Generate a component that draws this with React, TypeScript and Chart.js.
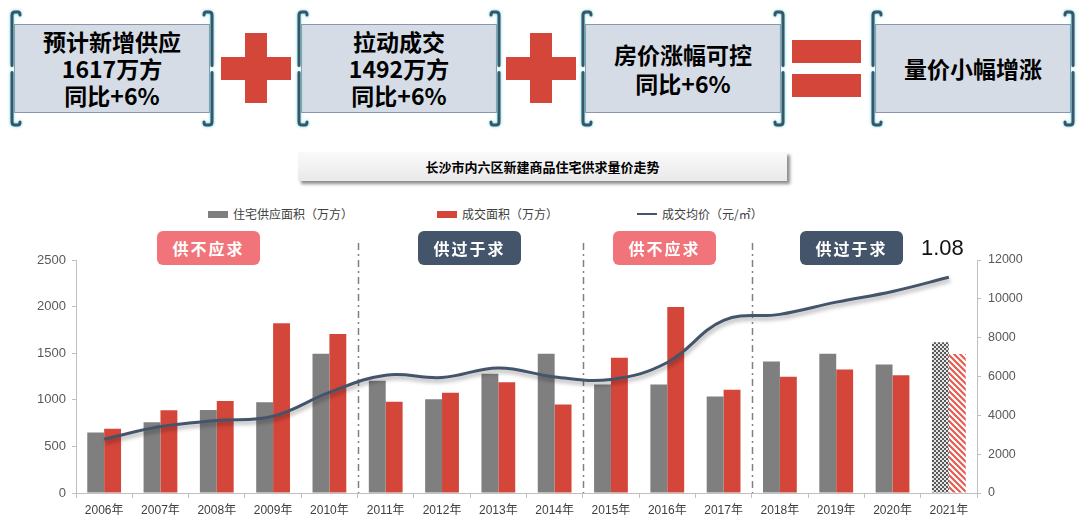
import React, { useEffect, useRef } from 'react';
import { Chart, registerables } from 'chart.js';

Chart.register(...registerables);

// ---- data ----
const years = ['2006年', '2007年', '2008年', '2009年', '2010年', '2011年', '2012年', '2013年', '2014年', '2015年', '2016年', '2017年', '2018年', '2019年', '2020年', '2021年'];
const supplyArea = [650, 760, 890, 975, 1493, 1204, 1007, 1279, 1493, 1164, 1164, 1036, 1411, 1493, 1379, 1617];
const dealArea = [690, 889, 986, 1821, 1707, 979, 1075, 1189, 950, 1450, 1996, 1107, 1246, 1325, 1264, 1492];
const avgPrice = [2770, 3420, 3730, 3950, 5180, 6070, 5950, 6440, 5980, 5850, 6720, 8890, 9200, 9830, 10380, 11110];
const leftAxis = { min: 0, max: 2500, step: 500 };
const rightAxis = { min: 0, max: 12000, step: 2000 };
const dividerAfter = [4, 8, 11];
const seriesNames = ['住宅供应面积（万方）', '成交面积（万方）', '成交均价（元/㎡）'];
const phaseLabels = ['供不应求', '供过于求', '供不应求', '供过于求'];
const topBoxes = [
  ['预计新增供应', '1617万方', '同比+6%'],
  ['拉动成交', '1492万方', '同比+6%'],
  ['房价涨幅可控', '同比+6%'],
  ['量价小幅增涨'],
];
const chartTitle = '长沙市内六区新建商品住宅供求量价走势';
const ratioLabel = '1.08';

const GRAY = '#7f7f7f';
const RED = '#D5463A';
const NAVY = '#44546A';
const PINK = '#F07479';

function makeChecker(): CanvasPattern | string {
  const c = document.createElement('canvas');
  c.width = 4; c.height = 4;
  const x = c.getContext('2d');
  if (!x) return GRAY;
  x.fillStyle = '#e6e6e6'; x.fillRect(0, 0, 4, 4);
  x.fillStyle = '#595959';
  x.fillRect(0, 0, 2, 2); x.fillRect(2, 2, 2, 2);
  const p = x.createPattern(c, 'repeat');
  return p || GRAY;
}
function makeStripes(): CanvasPattern | string {
  const c = document.createElement('canvas');
  c.width = 6; c.height = 6;
  const x = c.getContext('2d');
  if (!x) return RED;
  x.fillStyle = '#ffffff'; x.fillRect(0, 0, 6, 6);
  x.strokeStyle = '#E8564B'; x.lineWidth = 2;
  x.beginPath();
  x.moveTo(-1, -1); x.lineTo(7, 7);
  x.moveTo(-4, 2); x.lineTo(2, 8);
  x.moveTo(2, -4); x.lineTo(8, 2);
  x.stroke();
  const p = x.createPattern(c, 'repeat');
  return p || RED;
}

const dividerPlugin = {
  id: 'dividers',
  beforeDatasetsDraw(chart: any) {
    const xs = chart.scales.x;
    const ctx = chart.ctx;
    ctx.save();
    ctx.strokeStyle = '#808080';
    ctx.lineWidth = 1.5;
    ctx.setLineDash([7, 4, 2, 4]);
    for (const i of dividerAfter) {
      const px = Math.round((xs.getPixelForValue(i) + xs.getPixelForValue(i + 1)) / 2) + 0.5;
      ctx.beginPath();
      ctx.moveTo(px, chart.chartArea.top - 17);
      ctx.lineTo(px, chart.chartArea.bottom);
      ctx.stroke();
    }
    ctx.restore();
  },
};

const shadowPlugin = {
  id: 'lineShadow',
  beforeDatasetDraw(chart: any, args: any) {
    if (args.meta.type === 'line') {
      const ctx = chart.ctx;
      ctx.save();
      ctx.shadowColor = 'rgba(0,0,0,0.35)';
      ctx.shadowBlur = 4;
      ctx.shadowOffsetX = 1;
      ctx.shadowOffsetY = 3;
    }
  },
  afterDatasetDraw(chart: any, args: any) {
    if (args.meta.type === 'line') chart.ctx.restore();
  },
};

function BracketBox({ left, lines }: { left: number; lines: string[] }) {
  const top = 24, w = 196, h = 89;
  const bracket = (side: 'l' | 'r') => {
    const x = side === 'l' ? -2 : w + 2;
    const d = side === 'l' ? 1 : -1;
    const yt = -12, yb = h + 12;
    return (
      <g>
        <path d={`M ${x} ${h / 2 - 3} L ${x} ${yt + 3} Q ${x} ${yt} ${x + 3 * d} ${yt} L ${x + 6 * d} ${yt} Q ${x + 8 * d} ${yt} ${x + 8 * d} ${yt + 3}`} />
        <path d={`M ${x} ${h / 2 + 4} L ${x} ${yb - 3} Q ${x} ${yb} ${x + 3 * d} ${yb} L ${x + 6 * d} ${yb} Q ${x + 8 * d} ${yb} ${x + 8 * d} ${yb - 3}`} />
      </g>
    );
  };
  return (
    <div style={{ position: 'absolute', left, top, width: w, height: h }}>
      <div style={{ position: 'absolute', inset: 0, background: '#D6DCE5', border: '1px solid #8796AC', boxSizing: 'border-box' }} />
      <svg width={w + 30} height={h + 34} viewBox={`-15 -17 ${w + 30} ${h + 34}`}
        style={{ position: 'absolute', left: -15, top: -17, overflow: 'visible', filter: 'drop-shadow(0 0 1.5px #55d6dc)' }}
        fill="none" stroke="#3A5568" strokeWidth={3} strokeLinecap="round">
        {bracket('l')}
        {bracket('r')}
      </svg>
      <div style={{ position: 'absolute', inset: 0, display: 'flex', flexDirection: 'column', justifyContent: 'center', alignItems: 'center', fontFamily: '"Noto Sans CJK SC", "Liberation Sans", sans-serif', fontWeight: 700, fontSize: 23, lineHeight: lines.length === 3 ? '27px' : '29px', color: '#000' }}>
        {lines.map((t, i) => <div key={i}>{t}</div>)}
      </div>
    </div>
  );
}

function Plus({ left }: { left: number }) {
  return (
    <div style={{ position: 'absolute', left, top: 33, width: 70, height: 70 }}>
      <div style={{ position: 'absolute', left: 24, top: 0, width: 22, height: 70, background: RED }} />
      <div style={{ position: 'absolute', left: 0, top: 24, width: 70, height: 23, background: RED }} />
    </div>
  );
}

export default function App() {
  const ref = useRef<HTMLCanvasElement | null>(null);

  useEffect(() => {
    if (!ref.current) return;
    const checker = makeChecker();
    const stripes = makeStripes();
    const last = years.length - 1;
    const plain = (v: any) => String(v);
    const chart = new Chart(ref.current, {
      type: 'bar',
      data: {
        labels: years,
        datasets: [
          {
            type: 'bar',
            label: seriesNames[0],
            data: supplyArea,
            backgroundColor: supplyArea.map((_, i) => (i === last ? checker : GRAY)) as any,
            yAxisID: 'y',
            categoryPercentage: 0.6,
            barPercentage: 1.0,
            order: 2,
          },
          {
            type: 'bar',
            label: seriesNames[1],
            data: dealArea,
            backgroundColor: dealArea.map((_, i) => (i === last ? stripes : RED)) as any,
            yAxisID: 'y',
            categoryPercentage: 0.6,
            barPercentage: 1.0,
            order: 2,
          },
          {
            type: 'line',
            label: seriesNames[2],
            data: avgPrice,
            borderColor: NAVY,
            backgroundColor: NAVY,
            borderWidth: 3,
            pointRadius: 0,
            tension: 0.4,
            yAxisID: 'y1',
            order: 1,
          },
        ],
      },
      options: {
        responsive: false,
        animation: false,
        devicePixelRatio: 1,
        layout: { padding: { top: 20, left: 0, right: 0, bottom: 0 } },
        plugins: {
          legend: { display: false },
          tooltip: { enabled: false },
          title: { display: false },
        },
        scales: {
          x: {
            type: 'category',
            offset: true,
            grid: { offset: true, drawOnChartArea: false, drawTicks: true, tickLength: 5, color: '#bfbfbf' },
            border: { display: true, color: '#bfbfbf', width: 1 },
            ticks: { color: '#404040', font: { size: 12, family: '"Liberation Sans", "Noto Sans CJK SC", sans-serif' }, padding: 5, maxRotation: 0, autoSkip: false },
            afterFit: (s: any) => { s.height = 36; },
          },
          y: {
            position: 'left',
            min: leftAxis.min,
            max: leftAxis.max,
            grid: { drawOnChartArea: false, drawTicks: true, tickLength: 4, color: '#bfbfbf' },
            border: { display: true, color: '#bfbfbf', width: 1 },
            ticks: { stepSize: leftAxis.step, color: '#595959', font: { size: 13, family: '"Liberation Sans", sans-serif' }, padding: 6, callback: plain },
            afterFit: (s: any) => { s.width = 76; },
          },
          y1: {
            position: 'right',
            min: rightAxis.min,
            max: rightAxis.max,
            grid: { drawOnChartArea: false, drawTicks: true, tickLength: 4, color: '#bfbfbf' },
            border: { display: true, color: '#bfbfbf', width: 1 },
            ticks: { stepSize: rightAxis.step, color: '#595959', font: { size: 12.5, family: '"Liberation Sans", sans-serif' }, padding: 7, callback: plain },
            afterFit: (s: any) => { s.width = 103; },
          },
        },
      } as any,
      plugins: [dividerPlugin, shadowPlugin],
    });
    return () => chart.destroy();
  }, []);

  const cjk = '"Noto Sans CJK SC", "Liberation Sans", sans-serif';
  const legendItems = [
    { swatchLeft: 208, textLeft: 233, color: GRAY, h: 7 },
    { swatchLeft: 437, textLeft: 462, color: RED, h: 7 },
    { swatchLeft: 637, textLeft: 662, color: NAVY, h: 2 },
  ];
  const phaseBoxes = [
    { left: 157, bg: PINK },
    { left: 418, bg: NAVY },
    { left: 613, bg: PINK },
    { left: 800, bg: NAVY },
  ];

  return (
    <div style={{ position: 'absolute', left: 0, top: 0, width: 1080, height: 529, overflow: 'hidden', background: '#fff', fontFamily: cjk }}>
      {topBoxes.map((lines, i) => (
        <BracketBox key={i} left={[14, 301, 585, 875][i]} lines={lines} />
      ))}
      <Plus left={221} />
      <Plus left={506} />
      <div style={{ position: 'absolute', left: 792, top: 40, width: 69, height: 23, background: RED }} />
      <div style={{ position: 'absolute', left: 792, top: 74, width: 69, height: 23, background: RED }} />

      <div style={{ position: 'absolute', left: 298, top: 152, width: 489, height: 29, background: 'linear-gradient(#fafafa, #e9e9e9)', boxShadow: '3px 3px 3px rgba(0,0,0,0.45)', display: 'flex', alignItems: 'center', justifyContent: 'center', fontWeight: 700, fontSize: 13, color: '#000' }}>
        {chartTitle}
      </div>

      {legendItems.map((it, i) => (
        <React.Fragment key={i}>
          <div style={{ position: 'absolute', left: it.swatchLeft, top: 214 - it.h / 2, width: 20, height: it.h, background: it.color }} />
          <div style={{ position: 'absolute', left: it.textLeft, top: 205, height: 18, lineHeight: '18px', fontSize: 12, color: '#404040', whiteSpace: 'nowrap' }}>{seriesNames[i]}</div>
        </React.Fragment>
      ))}

      <div style={{ position: 'absolute', left: 0, top: 240, width: 1080, height: 289 }}>
        <canvas ref={ref} width={1080} height={289} style={{ display: 'block', width: 1080, height: 289 }} />
      </div>

      {phaseBoxes.map((b, i) => (
        <div key={i} style={{ position: 'absolute', left: b.left, top: 231, width: 103, height: 34, borderRadius: 6, background: b.bg, color: '#fff', fontWeight: 700, fontSize: 16, letterSpacing: 2, display: 'flex', alignItems: 'center', justifyContent: 'center' }}>
          {phaseLabels[i]}
        </div>
      ))}
      <div style={{ position: 'absolute', left: 921, top: 236, fontFamily: '"Liberation Sans", Arial, sans-serif', fontSize: 22, lineHeight: '24px', color: '#111' }}>{ratioLabel}</div>
    </div>
  );
}
